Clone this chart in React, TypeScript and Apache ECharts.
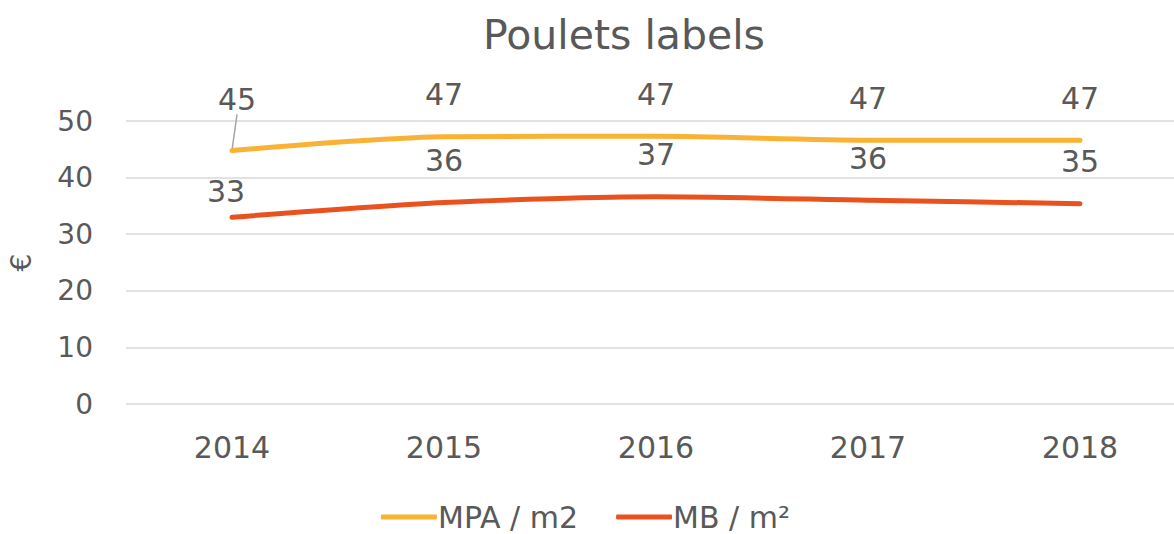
import React, { useEffect, useRef } from "react";
import * as echarts from "echarts";

const title = "Poulets labels";
const categories = ["2014", "2015", "2016", "2017", "2018"];
const mpaName = "MPA / m2";
const mbName = "MB / m²";
const mpaValues = [44.8, 47.2, 47.3, 46.6, 46.6];
const mbValues = [33.0, 35.6, 36.6, 36.0, 35.4];
const yTicks = { min: 0, max: 50, interval: 10 };
const yName = "€";

export default function App() {
  const ref = useRef<HTMLDivElement>(null);
  useEffect(() => {
    if (!ref.current) return;
    const chart = echarts.init(ref.current, undefined, { renderer: "svg" });
    const font = "'DejaVu Sans', sans-serif";
    const gray = "#595959";
    const labelCfg = {
      show: true,
      position: "top",
      distance: 25,
      fontSize: 30,
      color: gray,
      fontFamily: font,
      formatter: (p: any) => Math.round(p.value as number).toString(),
    };
    chart.setOption({
      animation: false,
      textStyle: { fontFamily: font, color: gray },
      title: {
        text: title,
        left: 478,
        top: 9,
        textStyle: { fontFamily: font, fontSize: 41, fontWeight: "normal", color: gray },
      },
      legend: {
        top: 497,
        left: 376,
        itemWidth: 56,
        itemHeight: 5,
        itemGap: 38,
        icon: "roundRect",
        textStyle: { fontFamily: font, fontSize: 30, color: gray, padding: [0, 0, 0, -4] },
        data: [mpaName, mbName],
      },
      grid: {
        left: 126,
        right: 0,
        top: 121,
        bottom: 130,
        containLabel: false,
        outerBoundsMode: "none",
      },
      xAxis: {
        type: "category",
        data: categories,
        boundaryGap: true,
        axisLine: { show: false },
        axisTick: { show: false },
        axisLabel: { fontSize: 30, color: gray, margin: 28, fontFamily: font },
      },
      yAxis: {
        type: "value",
        min: yTicks.min,
        max: yTicks.max,
        interval: yTicks.interval,
        name: yName,
        nameLocation: "middle",
        nameRotate: 90,
        nameGap: 91,
        nameTextStyle: { fontSize: 28, color: gray, fontFamily: font },
        axisLine: { show: false },
        axisTick: { show: false },
        axisLabel: { fontSize: 28, color: gray, margin: 33, fontFamily: font },
        splitLine: { lineStyle: { color: "#D9D9D9", width: 1.5 } },
      },
      series: [
        {
          name: mpaName,
          type: "line",
          data: mpaValues.map((v, i) =>
            i === 0
              ? { value: v, labelLine: { show: true, lineStyle: { color: "#A6A6A6", width: 1.5 } } }
              : v
          ),
          smooth: 0.25,
          symbol: "circle",
          symbolSize: 4,
          showSymbol: true,
          lineStyle: { color: "#F9B233", width: 5, cap: "round" },
          itemStyle: { color: "#F9B233", borderWidth: 0 },
          label: labelCfg,
        },
        {
          name: mbName,
          type: "line",
          data: mbValues,
          smooth: 0.25,
          symbol: "circle",
          symbolSize: 4,
          showSymbol: true,
          lineStyle: { color: "#E9521F", width: 5, cap: "round" },
          itemStyle: { color: "#E9521F", borderWidth: 0 },
          label: labelCfg,
        },
      ],
      labelLayout: (params: any) => {
        if (params.seriesIndex === 0 && params.dataIndex === 0) return { dy: -9, dx: 5 };
        if (params.seriesIndex === 1 && params.dataIndex === 0) return { dy: 16, dx: -6 };
        return {};
      },
    });
    return () => chart.dispose();
  }, []);
  return (
    <div
      ref={ref}
      style={{ position: "fixed", left: 0, top: 0, width: 1186, height: 534, background: "#fff" }}
    />
  );
}
